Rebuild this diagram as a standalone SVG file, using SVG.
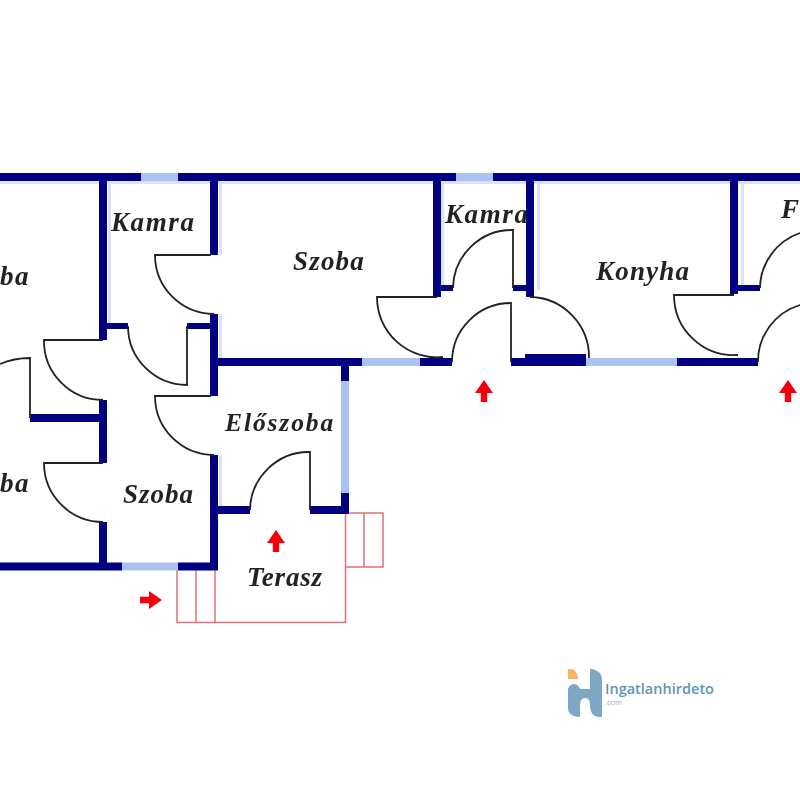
<svg xmlns="http://www.w3.org/2000/svg" width="800" height="800" viewBox="0 0 800 800">
<style>
.wall{fill:none;stroke:#000080;stroke-width:8}
.stub{fill:none;stroke:#000080;stroke-width:6}
.halo{fill:none;stroke:#dbe2f8;stroke-width:3}
.win{fill:none;stroke:#a9c3ee;stroke-width:8}
.door{fill:none;stroke:#222;stroke-width:1.8}
.terrace{fill:none;stroke:#e0707c;stroke-width:1.5}
.room{font-family:"Liberation Serif",serif;font-weight:bold;font-style:italic;font-size:27px;fill:#222;letter-spacing:1.6px}
.arrow{fill:#f4000c}
</style>
<defs>
<path id="arr" d="M0-11L9 2H3.2V11H-3.2V2H-9Z"/>
<filter id="soft" x="-5%" y="-5%" width="110%" height="110%"><feGaussianBlur stdDeviation="0.45"/></filter>
</defs>
<rect width="800" height="800" fill="#fff"/>
<g id="plan" filter="url(#soft)">
<g id="labels">
<text class="room" x="111" y="231">Kamra</text>
<text class="room" x="293" y="270" style="letter-spacing:1.2px">Szoba</text>
<text class="room" x="445" y="223">Kamra</text>
<text class="room" x="596" y="280" style="letter-spacing:1.2px">Konyha</text>
<text class="room" x="781" y="218">F</text>
<text class="room" x="0" y="285">ba</text>
<text class="room" x="0" y="492">ba</text>
<text class="room" x="123" y="503" style="letter-spacing:1px">Szoba</text>
<text class="room" x="225" y="431" style="font-size:25.5px;letter-spacing:1.900px">Előszoba</text>
<text class="room" x="247" y="586" style="letter-spacing:0.800px">Terasz</text>
</g>
<g id="halos">
<path class="halo" d="M109.500 182V325M220.500 182V255M220.500 314V360M220.500 455V510M538.500 182V290M742.500 182V285M442.500 182V285M0 182.500H800"/>
</g>
<g id="terrace">
<path class="terrace" d="M177 570V622.500H345.500V513H383V567H345.500M196 570V622.500M215 570V622.500M364 513V567"/>
</g>
<g id="windows">
<path class="win" d="M141 177H178M456 177H493M122 566.500H178M362 362H420M586 362H677"/>
<path class="win" d="M345 381V493"/>
</g>
<g id="walls">
<path class="wall" d="M0 177H141M178 177H456M493 177H800"/>
<path class="wall" d="M103 177V340M214 177V255M214 314V396M214 455V570M437 177V297M530 177V297M734 177V294"/>
<path class="wall" d="M103 400V463M103 522V566M30 418H103"/>
<path class="wall" d="M0 566.500H122M178 566.500H218M214 362H362M420 362H452M511 362H586M677 362H758"/>
<path class="wall" d="M345 362V381M345 493V514M214 510H250M310 510H345"/>
<path class="stub" d="M103 326H128M187 326H214M437 288H453M513 288H530M734 288H760M525 357H586"/>
</g>
<g id="doors">
<path class="door" d="M211 255H155A59 59 0 0 0 214 314"/>
<path class="door" d="M211 396H155A59 59 0 0 0 214 455"/>
<path class="door" d="M128 326A59 59 0 0 0 187 385V326"/>
<path class="door" d="M103 340H44A59 59 0 0 0 103 400"/>
<path class="door" d="M103 463H44A59 59 0 0 0 103 522"/>
<path class="door" d="M0 364Q14 358 30 358V418"/>
<path class="door" d="M250 510A59 59 0 0 1 310 452V510"/>
<path class="door" d="M452 362A59 59 0 0 1 511 303V362"/>
<path class="door" d="M453 288A59 59 0 0 1 513 230V288"/>
<path class="door" d="M437 297H377A60 60 0 0 0 443 357"/>
<path class="door" d="M530 297A60 60 0 0 1 589 358"/>
<path class="door" d="M734 295H674A60 60 0 0 0 738 355"/>
<path class="door" d="M760 288A59 59 0 0 1 800 233"/>
<path class="door" d="M758 362A59 59 0 0 1 800 305"/>
</g>
<g id="arrows">
<use href="#arr" class="arrow" x="484" y="391"/>
<use href="#arr" class="arrow" x="788" y="391"/>
<use href="#arr" class="arrow" x="276" y="541"/>
<use href="#arr" class="arrow" transform="translate(151 600) rotate(90)"/>
</g>
</g>
<g id="logo">
<path fill="#ffb066" d="M568 669H571C575 669 578 674 578 679H568Z"/>
<path fill="#7ea7c6" d="M568 689Q570 684 574 684Q578 684 580 689H590V669H592Q602 671 602 680V717H600Q590 717 590 705Q590 698 585 698Q580 698 580 705V717H578Q568 716 568 708Z"/>
<text x="605" y="694" style="font-family:'Open Sans',sans-serif;font-weight:600;font-size:14.500px;fill:#5f93b8">Ingatlanhirdeto</text>
<text x="605" y="705" style="font-family:'Open Sans',sans-serif;font-size:7.500px;fill:#a0adb6">.com</text>
</g>
</svg>
